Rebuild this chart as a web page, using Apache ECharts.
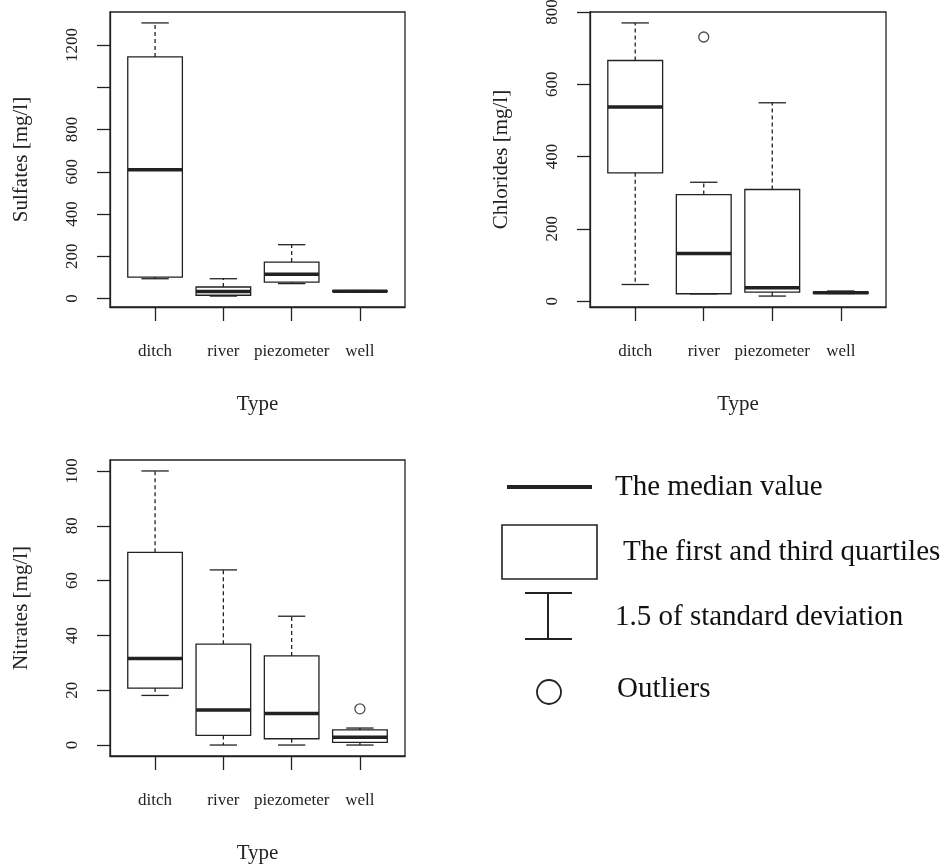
<!DOCTYPE html>
<html>
<head>
<meta charset="utf-8">
<script src="https://cdn.jsdelivr.net/npm/echarts@6/dist/echarts.min.js"></script>
<style>
  html, body { margin: 0; padding: 0; background: #fff; }
  #chart { width: 948px; height: 865px; }
</style>
</head>
<body>
<div id="chart"></div>
<script>
// boxplots of water quality by sampling point type
// each row: [min, Q1, median, Q3, max]
const types = ['ditch', 'river', 'piezometer', 'well']

const sulfates = [
    [94, 102, 609, 1143, 1304],
    [12, 16, 34, 55, 94],
    [71, 78, 115, 173, 255],
    [33, 34, 35, 37, 38],
]
const sulfateOutliers = []
const sulfateTicks = [0, 200, 400, 600, 800, 1000, 1200]
const sulfateLabels = [0, 200, 400, 600, 800, 1200]

const chlorides = [
    [46, 355, 537, 666, 770],
    [20, 20.5, 132, 295, 329],
    [14, 25, 37, 309, 549],
    [21, 21.5, 23, 25, 28],
]
const chlorideOutliers = [[2, 731]]
const chlorideTicks = [0, 200, 400, 600, 800]

const nitrates = [
    [18.1, 20.8, 31.6, 70.3, 100],
    [0, 3.5, 12.8, 36.8, 63.9],
    [0, 2.3, 11.5, 32.5, 47],
    [0, 1.0, 2.8, 5.5, 6.2],
]
const nitrateOutliers = [[4, 13.2]]
const nitrateTicks = [0, 20, 40, 60, 80, 100]

const INK = '#222'
const FONT = 'Liberation Serif'
const xPos = [1, 2, 3, 4]

const chart = echarts.init(document.getElementById('chart'))

// R-like range: data range padded by 4 %
function padded(rows, outliers) {
    let lo = Infinity, hi = -Infinity
    rows.forEach(r => { lo = Math.min(lo, r[0]); hi = Math.max(hi, r[4]) })
    outliers.forEach(o => { lo = Math.min(lo, o[1]); hi = Math.max(hi, o[1]) })
    const d = (hi - lo) * 0.04
    return [lo - d, hi + d]
}

function renderBox(params, api) {
    const x = api.value(0)
    const pMin = api.coord([x, api.value(1)])
    const pQ1 = api.coord([x, api.value(2)])
    const pMed = api.coord([x, api.value(3)])
    const pQ3 = api.coord([x, api.value(4)])
    const pMax = api.coord([x, api.value(5)])
    const half = api.size([0.8, 0])[0] / 2
    const cap = half / 2
    const cx = pMed[0]
    const solid = { stroke: INK, lineWidth: 1.3, fill: null }
    const dashed = { stroke: INK, lineWidth: 1.3, lineDash: [4, 3], fill: null }
    return {
        type: 'group',
        children: [
            { type: 'line', shape: { x1: cx, y1: pQ3[1], x2: cx, y2: pMax[1] }, style: dashed },
            { type: 'line', shape: { x1: cx, y1: pQ1[1], x2: cx, y2: pMin[1] }, style: dashed },
            { type: 'line', shape: { x1: cx - cap, y1: pMax[1], x2: cx + cap, y2: pMax[1] }, style: solid },
            { type: 'line', shape: { x1: cx - cap, y1: pMin[1], x2: cx + cap, y2: pMin[1] }, style: solid },
            {
                type: 'rect',
                shape: { x: cx - half, y: pQ3[1], width: half * 2, height: pQ1[1] - pQ3[1] },
                style: { stroke: INK, lineWidth: 1.3, fill: '#fff' },
            },
            {
                type: 'line',
                shape: { x1: cx - half, y1: pMed[1], x2: cx + half, y2: pMed[1] },
                style: { stroke: INK, lineWidth: 3.5 },
            },
        ],
    }
}

const grids = [
    { left: 110, top: 12, width: 295, height: 295 },
    { left: 590, top: 12, width: 296, height: 295 },
    { left: 110, top: 460, width: 295, height: 296 },
]
const panels = [
    { name: 'Sulfates [mg/l]', rows: sulfates, out: sulfateOutliers, ticks: sulfateTicks, labels: sulfateLabels },
    { name: 'Chlorides [mg/l]', rows: chlorides, out: chlorideOutliers, ticks: chlorideTicks, labels: chlorideTicks },
    { name: 'Nitrates [mg/l]', rows: nitrates, out: nitrateOutliers, ticks: nitrateTicks, labels: nitrateTicks },
]

const xAxes = [], yAxes = [], series = []
panels.forEach((p, i) => {
    const range = padded(p.rows, p.out)
    xAxes.push({
        type: 'value',
        gridIndex: i,
        min: 0.34,
        max: 4.66,
        name: 'Type',
        nameLocation: 'middle',
        nameGap: 87,
        nameTextStyle: { fontFamily: FONT, fontSize: 21, color: INK },
        splitLine: { show: false },
        axisLine: { show: true, onZero: false, lineStyle: { color: INK, width: 1.3 } },
        axisTick: { show: true, customValues: xPos, length: 14, lineStyle: { color: INK, width: 1.3 } },
        axisLabel: {
            customValues: xPos,
            formatter: v => types[Math.round(v) - 1],
            margin: 36,
            fontFamily: FONT,
            fontSize: 17,
            color: INK,
        },
    })
    yAxes.push({
        type: 'value',
        gridIndex: i,
        min: range[0],
        max: range[1],
        name: p.name,
        nameLocation: 'middle',
        nameGap: 78,
        nameTextStyle: { fontFamily: FONT, fontSize: 21, color: INK },
        splitLine: { show: false },
        axisLine: { show: true, onZero: false, lineStyle: { color: INK, width: 1.3 } },
        axisTick: { show: true, customValues: p.ticks, length: 13, lineStyle: { color: INK, width: 1.3 } },
        axisLabel: {
            customValues: p.labels,
            formatter: v => String(v),
            rotate: 90,
            margin: 29,
            fontFamily: FONT,
            fontSize: 17,
            color: INK,
        },
    })
    series.push({
        type: 'custom',
        xAxisIndex: i,
        yAxisIndex: i,
        renderItem: renderBox,
        encode: { x: 0, y: [1, 2, 3, 4, 5] },
        data: p.rows.map((r, k) => [xPos[k]].concat(r)),
        silent: true,
    })
    series.push({
        type: 'scatter',
        xAxisIndex: i,
        yAxisIndex: i,
        symbol: 'circle',
        symbolSize: 10,
        itemStyle: { color: '#fff', borderColor: INK, borderWidth: 1.3 },
        data: p.out,
        silent: true,
    })
})

const legendText = { fontFamily: FONT, fontSize: 29, fill: '#111', verticalAlign: 'middle' }
const option = {
    backgroundColor: '#fff',
    animation: false,
    grid: grids.map(g => Object.assign({
        show: true,
        borderColor: INK,
        borderWidth: 1.3,
        backgroundColor: 'transparent',
        containLabel: false,
        outerBoundsMode: 'none',
    }, g)),
    xAxis: xAxes,
    yAxis: yAxes,
    series: series,
    graphic: [
        { type: 'line', shape: { x1: 507, y1: 487, x2: 592, y2: 487 }, style: { stroke: INK, lineWidth: 4 } },
        { type: 'text', x: 615, y: 487, style: Object.assign({ text: 'The median value' }, legendText) },
        { type: 'rect', shape: { x: 502, y: 525, width: 95, height: 54 }, style: { stroke: INK, lineWidth: 1.6, fill: '#fff' } },
        { type: 'text', x: 623, y: 552, style: Object.assign({ text: 'The first and third quartiles' }, legendText) },
        { type: 'line', shape: { x1: 525, y1: 593, x2: 572, y2: 593 }, style: { stroke: INK, lineWidth: 2 } },
        { type: 'line', shape: { x1: 548, y1: 593, x2: 548, y2: 639 }, style: { stroke: INK, lineWidth: 2 } },
        { type: 'line', shape: { x1: 525, y1: 639, x2: 572, y2: 639 }, style: { stroke: INK, lineWidth: 2 } },
        { type: 'text', x: 615, y: 617, style: Object.assign({ text: '1.5 of standard deviation' }, legendText) },
        { type: 'circle', shape: { cx: 549, cy: 692, r: 12 }, style: { stroke: INK, lineWidth: 1.8, fill: '#fff' } },
        { type: 'text', x: 617, y: 689, style: Object.assign({ text: 'Outliers' }, legendText) },
    ],
}
chart.setOption(option)
window.addEventListener('resize', () => chart.resize())
</script>
</body>
</html>
